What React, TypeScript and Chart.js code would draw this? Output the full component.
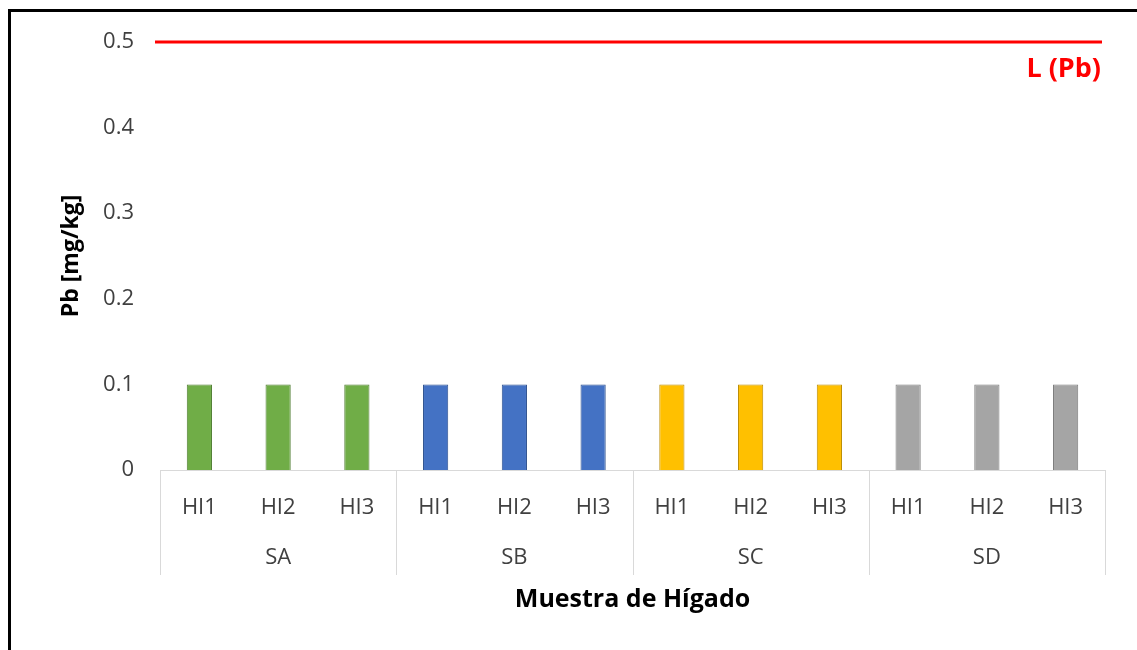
import React, { useEffect, useRef } from "react";
import { Chart, registerables } from "chart.js";

Chart.register(...registerables);

const groups = ["SA", "SB", "SC", "SD"];
const samples = ["HI1", "HI2", "HI3"];
const pbValues = [0.1, 0.1, 0.1, 0.1, 0.1, 0.1, 0.1, 0.1, 0.1, 0.1, 0.1, 0.1];
const limitValue = 0.5;
const limitLabel = "L (Pb)";
const groupFill = ["#70AD47", "#4472C4", "#FFC000", "#A5A5A5"];
const groupEdge = ["#507E32", "#2F528F", "#BC8C00", "#7B7B7B"];
const yTitle = "Pb [mg/kg]";
const xTitle = "Muestra de Hígado";

const FONT = "'Open Sans', sans-serif";
const TEXT = "#404040";

const overlayPlugin = {
  id: "overlay",
  afterDraw(chart: any) {
    const ctx = chart.ctx;
    const x = chart.scales.x;
    const y = chart.scales.y;
    const area = chart.chartArea;
    ctx.save();
    // group separators
    ctx.strokeStyle = "#D9D9D9";
    ctx.lineWidth = 1;
    for (let g = 0; g <= groups.length; g++) {
      const px = Math.round(x.getPixelForValue(g * samples.length - 0.5)) + 0.5;
      ctx.beginPath();
      ctx.moveTo(px, area.bottom);
      ctx.lineTo(px, 575);
      ctx.stroke();
    }
    // group labels
    ctx.fillStyle = TEXT;
    ctx.font = `22px ${FONT}`;
    ctx.textAlign = "center";
    ctx.textBaseline = "middle";
    groups.forEach((g, i) => {
      const a = x.getPixelForValue(i * samples.length);
      const b = x.getPixelForValue(i * samples.length + samples.length - 1);
      ctx.fillText(g, (a + b) / 2, 558);
    });
    // limit line
    const ly = y.getPixelForValue(limitValue);
    ctx.strokeStyle = "#FF0000";
    ctx.lineWidth = 3;
    ctx.beginPath();
    ctx.moveTo(area.left - 5, ly);
    ctx.lineTo(area.right - 3, ly);
    ctx.stroke();
    ctx.fillStyle = "#FF0000";
    ctx.font = `bold 27px ${FONT}`;
    ctx.textAlign = "right";
    ctx.textBaseline = "alphabetic";
    ctx.fillText(limitLabel, area.right - 4, ly + 35);
    // frame
    ctx.strokeStyle = "#000000";
    ctx.lineWidth = 3;
    ctx.beginPath();
    ctx.moveTo(9.5, 650);
    ctx.lineTo(9.5, 10.5);
    ctx.lineTo(1137, 10.5);
    ctx.stroke();
    ctx.restore();
  },
};

export default function App() {
  const ref = useRef<HTMLCanvasElement | null>(null);
  useEffect(() => {
    if (!ref.current) return;
    const labels = groups.flatMap(() => samples);
    const chart = new Chart(ref.current, {
      type: "bar",
      data: {
        labels,
        datasets: [
          {
            label: "Pb",
            data: pbValues,
            backgroundColor: pbValues.map((_, i) => groupFill[Math.floor(i / samples.length)]),
            borderColor: pbValues.map((_, i) => groupEdge[Math.floor(i / samples.length)]),
            borderWidth: 1,
            categoryPercentage: 1,
            barPercentage: 0.32,
          },
        ],
      },
      options: {
        responsive: false,
        animation: false,
        devicePixelRatio: 1,
        layout: { padding: { top: 42, right: 32, left: 0, bottom: 0 } },
        plugins: { legend: { display: false }, tooltip: { enabled: false } },
        scales: {
          x: {
            grid: { display: false, drawTicks: false },
            border: { display: true, color: "#D9D9D9", width: 1 },
            ticks: {
              color: TEXT,
              font: { family: FONT, size: 22 },
              padding: 25,
              maxRotation: 0,
              autoSkip: false,
            },
            title: {
              display: true,
              text: xTitle,
              color: "#000000",
              font: { family: FONT, size: 25, weight: "bold" },
              padding: { top: 0, bottom: 35 },
            },
            afterFit(scale: any) {
              scale.height = 180;
            },
          },
          y: {
            min: 0,
            max: 0.5,
            grid: { display: false, drawTicks: false },
            border: { display: false },
            ticks: {
              stepSize: 0.1,
              color: TEXT,
              font: { family: FONT, size: 22 },
              padding: 26,
              callback: (v: any) => String(+Number(v).toFixed(1)),
            },
            title: {
              display: true,
              text: yTitle,
              color: "#000000",
              font: { family: FONT, size: 23, weight: "bold" },
              padding: { top: 58, bottom: 0 },
            },
            afterFit(scale: any) {
              scale.width = 160;
            },
          },
        },
      },
      plugins: [overlayPlugin],
    });
    return () => chart.destroy();
  }, []);
  return (
    <div style={{ position: "fixed", left: 0, top: 0, width: 1137, height: 650, background: "#fff" }}>
      <canvas ref={ref} width={1137} height={650} style={{ display: "block" }} />
    </div>
  );
}
